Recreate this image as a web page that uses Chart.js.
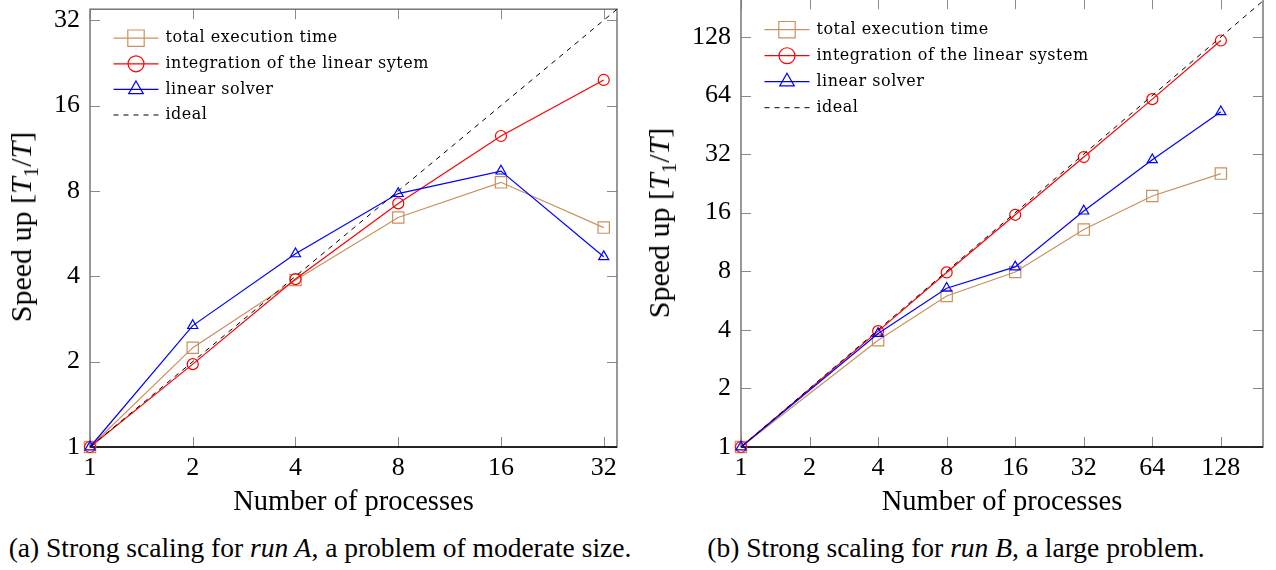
<!DOCTYPE html>
<html>
<head>
<meta charset="utf-8">
<script src="https://cdn.jsdelivr.net/npm/chart.js@4.4.1/dist/chart.umd.min.js"></script>
<style>
  html, body { margin: 0; padding: 0; background: #fff; }
  body { width: 1276px; height: 570px; position: relative; overflow: hidden; color: #000; }
  .plot { position: absolute; }
  .serif { font-family: 'Liberation Serif', 'Times New Roman', Tinos, serif; }
  .ytitle { position: absolute; font-size: 30px; line-height: 1; white-space: nowrap; transform: translate(-50%, -50%) rotate(-90deg); }
  .ytitle sub { font-size: 0.7em; line-height: 0; }
  .caption { position: absolute; font-size: 27.5px; line-height: 1; white-space: nowrap; transform: translateX(-50%); }
</style>
</head>
<body>
<div class="plot" style="left:0;top:0;width:640px;height:530px"><canvas id="chartA"></canvas></div>
<div class="plot" style="left:640px;top:-10px;width:636px;height:540px"><canvas id="chartB"></canvas></div>
<div class="ytitle serif" style="left:21px;top:227px">Speed up [<i>T</i><sub>1</sub>/<i>T</i>]</div>
<div class="ytitle serif" style="left:659px;top:223px">Speed up [<i>T</i><sub>1</sub>/<i>T</i>]</div>
<div class="caption serif" style="left:320px;top:534px">(a) Strong scaling for <i>run A</i>, a problem of moderate size.</div>
<div class="caption serif" style="left:956px;top:534px">(b) Strong scaling for <i>run B</i>, a large problem.</div>
<script>
// run A
const procsA = [1, 2, 4, 8, 16, 32];
const totalA = [1, 2.24, 3.88, 6.45, 8.58, 5.94];
const integA = [1, 1.96, 3.91, 7.23, 12.5, 19.7];
const solverA = [1, 2.68, 4.8, 7.83, 9.4, 4.69];
const idealA = [1, 35];
const ticksA = [1, 2, 4, 8, 16, 32];
const labelsA = ["total execution time", "integration of the linear sytem", "linear solver", "ideal"];

// run B
const procsB = [1, 4, 8, 16, 32, 64, 128];
const totalB = [1, 3.54, 5.97, 7.93, 13.1, 19.5, 25.4];
const integB = [1, 3.94, 7.89, 15.6, 30.9, 61.3, 122.7];
const solverB = [1, 3.83, 6.54, 8.42, 16.3, 29.9, 52.8];
const idealB = [1, 200];
const xTicksB = [1, 2, 4, 8, 16, 32, 64, 128];
const yTicksB = [1, 2, 4, 8, 16, 32, 64, 128];
const labelsB = ["total execution time", "integration of the linear system", "linear solver", "ideal"];

const SERIF = "'Liberation Serif', 'Times New Roman', Tinos, serif";
const LEGEND_FONT = "16px 'DejaVu Serif', serif";
const TAN = "#c8925e";

function pts(xs, ys) {
  return xs.map((x, i) => ({ x: x, y: ys[i] }));
}

function marker(ctx, style, cx, cy, r) {
  ctx.beginPath();
  if (style === "rect") {
    const s = r * Math.SQRT1_2;
    ctx.rect(cx - s, cy - s, 2 * s, 2 * s);
  } else if (style === "circle") {
    ctx.arc(cx, cy, r, 0, Math.PI * 2);
  } else if (style === "triangle") {
    ctx.moveTo(cx, cy - r);
    ctx.lineTo(cx + r * 0.866, cy + r * 0.5);
    ctx.lineTo(cx - r * 0.866, cy + r * 0.5);
    ctx.closePath();
  }
  ctx.stroke();
}

// box around the plot with inward tick marks on all four sides
const framePlugin = {
  id: "frame",
  beforeDatasetsDraw(chart) {
    const { ctx, chartArea: a } = chart;
    const x = chart.scales.x, y = chart.scales.y;
    ctx.save();
    ctx.strokeStyle = "#8a8a8a";
    ctx.lineWidth = 1;
    ctx.beginPath();
    x.ticks.forEach(t => {
      const px = Math.round(x.getPixelForValue(t.value)) + 0.5;
      ctx.moveTo(px, a.bottom); ctx.lineTo(px, a.bottom - 10);
      ctx.moveTo(px, a.top); ctx.lineTo(px, a.top + 10);
    });
    y.ticks.forEach(t => {
      const py = Math.round(y.getPixelForValue(t.value)) + 0.5;
      ctx.moveTo(a.left, py); ctx.lineTo(a.left + 10, py);
      ctx.moveTo(a.right, py); ctx.lineTo(a.right - 10, py);
    });
    ctx.stroke();
    ctx.strokeStyle = "#777";
    ctx.lineWidth = 1.5;
    ctx.strokeRect(a.left, a.top, a.right - a.left, a.bottom - a.top);
    ctx.strokeStyle = "#000";
    ctx.lineWidth = 1.3;
    ctx.beginPath();
    ctx.moveTo(a.left, a.bottom); ctx.lineTo(a.right, a.bottom);
    ctx.stroke();
    ctx.restore();
  }
};

// pgfplots-like legend: line sample with marker, inside the plot
const legendPlugin = {
  id: "boxLegend",
  afterDatasetsDraw(chart, args, opts) {
    const { ctx, chartArea: a } = chart;
    chart.data.datasets.forEach((ds, i) => {
      const cy = a.top + opts.top + i * opts.row;
      const x0 = a.left + opts.left;
      ctx.save();
      ctx.strokeStyle = ds.borderColor;
      ctx.lineWidth = ds.borderWidth;
      ctx.setLineDash(ds.borderDash || []);
      ctx.beginPath();
      ctx.moveTo(x0, cy); ctx.lineTo(x0 + 45, cy);
      ctx.stroke();
      ctx.setLineDash([]);
      if (ds.pointRadius > 0) {
        ctx.strokeStyle = ds.pointBorderColor;
        ctx.lineWidth = ds.pointBorderWidth;
        marker(ctx, ds.pointStyle, x0 + 22.5, cy, ds.pointRadius * 1.45);
      }
      ctx.fillStyle = "#000";
      ctx.font = LEGEND_FONT;
      ctx.letterSpacing = "0.5px";
      ctx.textBaseline = "middle";
      ctx.fillText(ds.label, x0 + 52, cy);
      ctx.restore();
    });
  }
};

function series(label, data, color, style, radius, order) {
  return {
    label, data, order,
    borderColor: color, borderWidth: 1.2,
    pointStyle: style, pointRadius: radius, pointHoverRadius: radius,
    pointBorderColor: color, pointBackgroundColor: "rgba(0,0,0,0)", pointBorderWidth: 1.2,
    clip: false, tension: 0
  };
}

function makeChart(id, cfg) {
  const datasets = [
    series(cfg.labels[0], pts(cfg.procs, cfg.total), TAN, "rect", 8, 4),
    series(cfg.labels[1], pts(cfg.procs, cfg.integ), "#ff0000", "circle", 5.5, 3),
    series(cfg.labels[2], pts(cfg.procs, cfg.solver), "#0000ff", "triangle", 5.8, 2),
    Object.assign(series(cfg.labels[3], pts(cfg.ideal, cfg.ideal), "#000", "circle", 0, 1), { borderWidth: 1, borderDash: [5, 5] })
  ];
  new Chart(document.getElementById(id), {
    type: "line",
    data: { datasets },
    options: {
      responsive: true,
      maintainAspectRatio: false,
      animation: false,
      layout: { padding: cfg.padding },
      plugins: {
        legend: { display: false },
        tooltip: { enabled: false },
        boxLegend: { left: 23.5, top: cfg.legendTop, row: cfg.legendRow }
      },
      scales: {
        x: {
          type: "logarithmic", min: 1, max: cfg.xMax,
          afterBuildTicks: s => { s.ticks = cfg.xTicks.map(v => ({ value: v })); },
          afterFit: s => { s.height = 80; s.paddingLeft = 0; s.paddingRight = 0; },
          grid: { display: false, drawTicks: false },
          border: { display: false },
          ticks: { callback: v => String(v), color: "#000", font: { family: SERIF, size: 26 }, padding: 6, maxRotation: 0, autoSkip: false },
          title: { display: true, text: "Number of processes", color: "#000", font: { family: SERIF, size: 28.5 }, padding: { top: 0, bottom: 7 } }
        },
        y: {
          type: "logarithmic", min: 1, max: cfg.yMax,
          afterBuildTicks: s => { s.ticks = cfg.yTicks.map(v => ({ value: v })); },
          afterFit: s => { s.width = cfg.yWidth; s.paddingTop = 0; s.paddingBottom = 0; },
          grid: { display: false, drawTicks: false },
          border: { display: false },
          ticks: { callback: v => String(v), color: "#000", font: { family: SERIF, size: 26 }, padding: 10, autoSkip: false }
        }
      }
    },
    plugins: [framePlugin, legendPlugin]
  });
}

makeChart("chartA", {
  procs: procsA, total: totalA, integ: integA, solver: solverA, ideal: idealA,
  labels: labelsA, xTicks: ticksA, yTicks: ticksA, xMax: 35, yMax: 35,
  yWidth: 90, padding: { left: 0, right: 23, top: 5, bottom: 3 },
  legendTop: 29, legendRow: 25.6
});

makeChart("chartB", {
  procs: procsB, total: totalB, integ: integB, solver: solverB, ideal: idealB,
  labels: labelsB, xTicks: xTicksB, yTicks: yTicksB, xMax: 196, yMax: 200,
  yWidth: 101, padding: { left: 0, right: 13, top: 8.84, bottom: 3 },
  legendTop: 30.5, legendRow: 26
});
</script>
</body>
</html>
